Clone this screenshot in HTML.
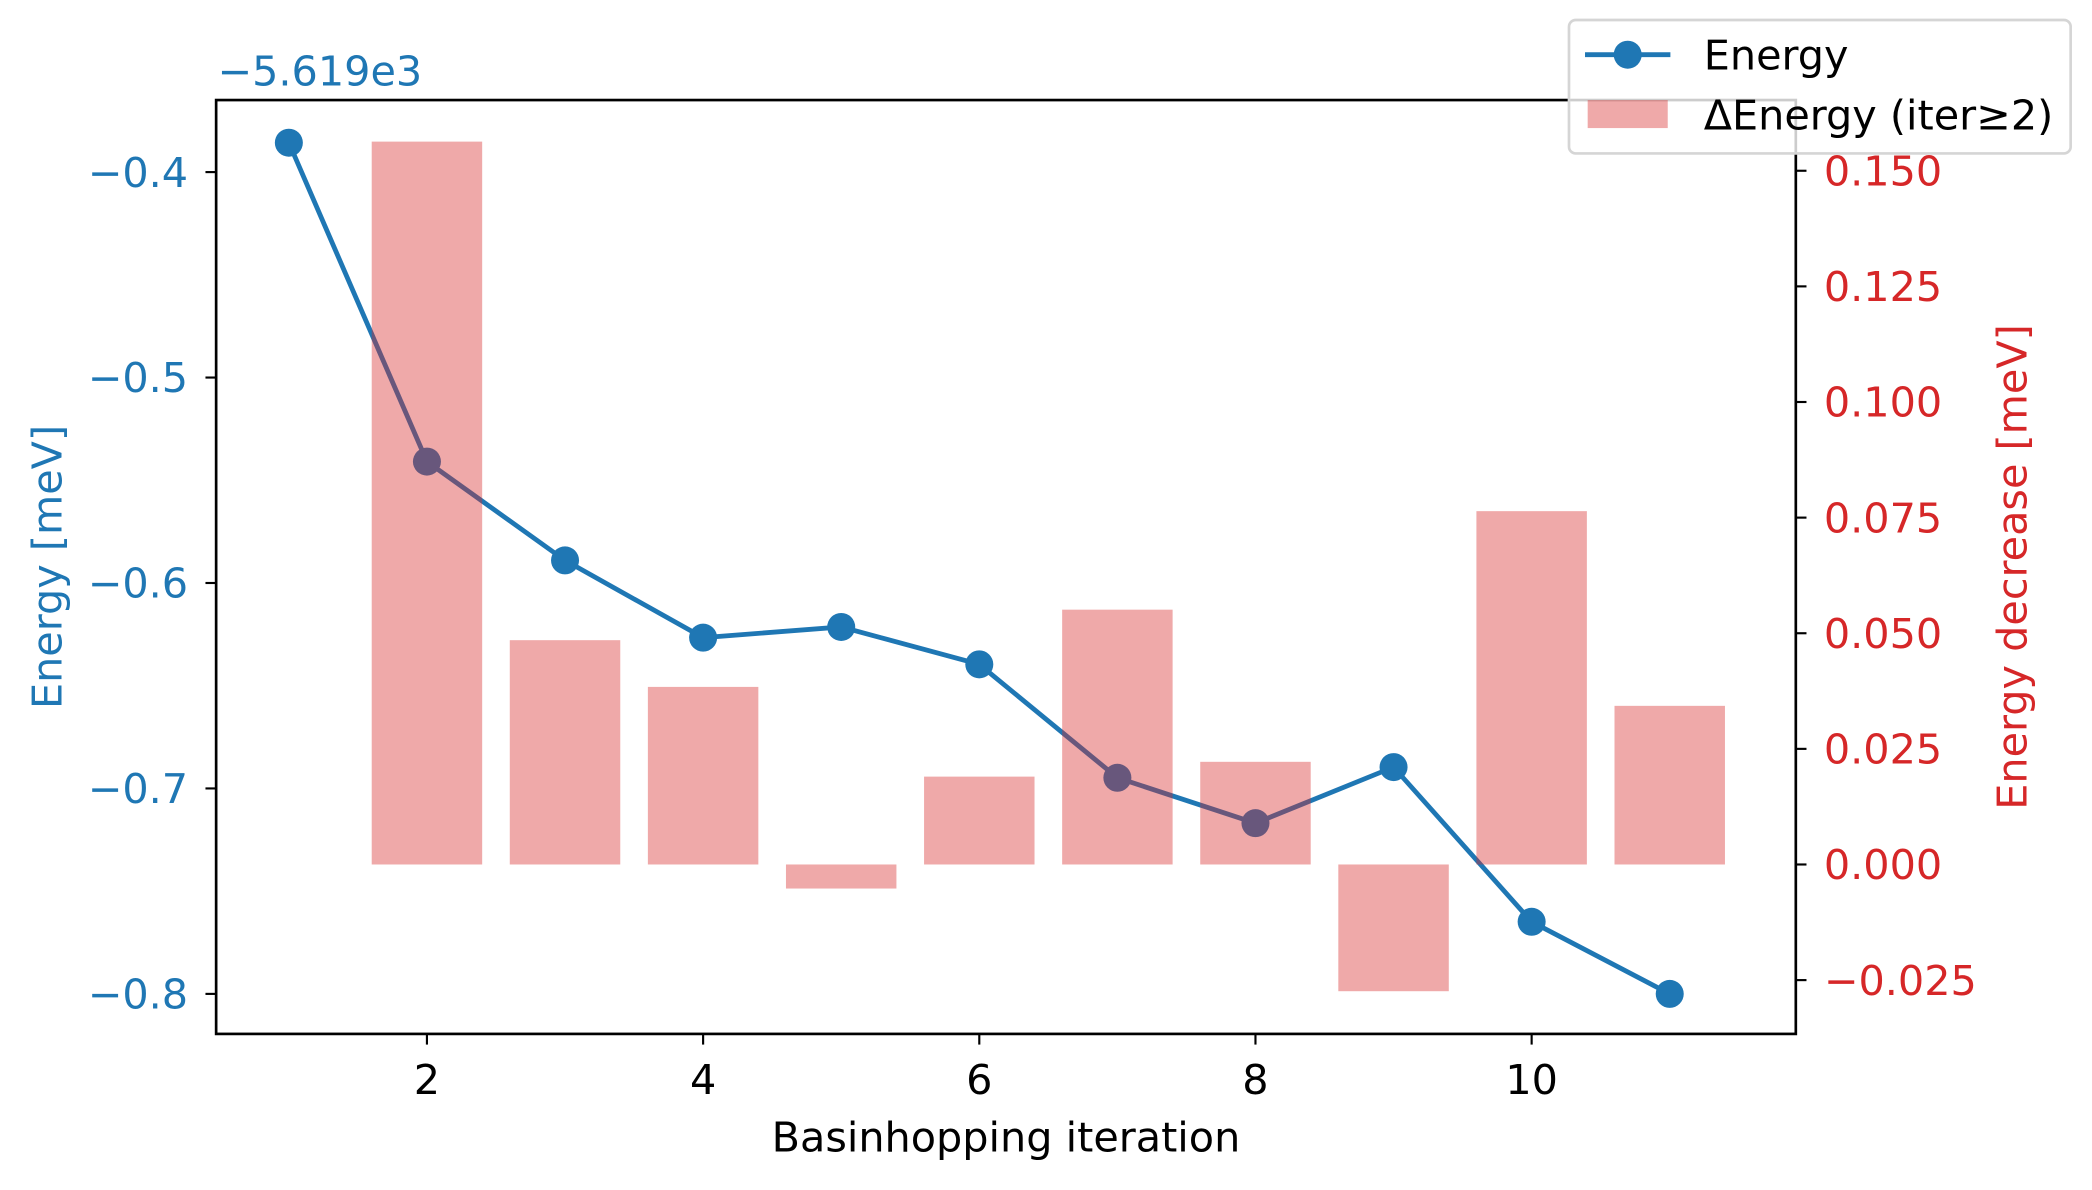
<!DOCTYPE html>
<html><head><meta charset="utf-8"><style>
html,body{margin:0;padding:0;background:#fff}
svg{display:block;font-family:"DejaVu Sans","Liberation Sans",sans-serif}
</style></head><body>
<svg id="chart" width="2092" height="1190" viewBox="0 0 1568 892" preserveAspectRatio="none" xmlns="http://www.w3.org/2000/svg">
<rect width="1568" height="892" fill="#fff"/>
<g id="lineLayer"></g>
<g id="barLayer"></g>
<g id="axes"></g>
</svg>
<script>
const iterations=[1,2,3,4,5,6,7,8,9,10,11];
const energy=[-0.3857,-0.5409,-0.589,-0.6266,-0.6214,-0.6396,-0.6948,-0.7169,-0.6896,-0.7649,-0.8];
const barIters=[2,3,4,5,6,7,8,9,10,11];
const deltas=[0.1563,0.0485,0.0384,-0.0052,0.019,0.0551,0.0222,-0.0274,0.0764,0.0343];
const xTicks=[2,4,6,8,10];
const yLeftTicks=[-0.4,-0.5,-0.6,-0.7,-0.8];
const yLeftLabels=["\u22120.4","\u22120.5","\u22120.6","\u22120.7","\u22120.8"];
const yRightTicks=[0.15,0.125,0.1,0.075,0.05,0.025,0,-0.025];
const yRightLabels=["0.150","0.125","0.100","0.075","0.050","0.025","0.000","\u22120.025"];

const L=162,R=1346,T=75,B=775,FS=31;
const NS="http://www.w3.org/2000/svg";
const xs=v=>216.5+(v-1)*103.5;
const yl=v=>129+(-0.4-v)*1540;
const yr=v=>648-v*3466.7;
function mk(tag,attrs,parent){const e=document.createElementNS(NS,tag);for(const k in attrs)e.setAttribute(k,attrs[k]);parent.appendChild(e);return e;}
const lineLayer=document.getElementById('lineLayer'),barLayer=document.getElementById('barLayer'),axes=document.getElementById('axes');

const pl=mk('polyline',{points:iterations.map((x,i)=>xs(x)+','+yl(energy[i])).join(' '),fill:'none',stroke:'#1f77b4','stroke-width':3.6},lineLayer);


iterations.forEach((x,i)=>{
  const c=mk('circle',{cx:xs(x),cy:yl(energy[i]),r:10.5,fill:'#1f77b4'},lineLayer);
  
  
});
barIters.forEach((x,i)=>{
  const v=deltas[i];const y0=yr(0),y1=yr(v);
  const r=mk('rect',{x:xs(x-0.4),y:Math.min(y0,y1),width:xs(x+0.4)-xs(x-0.4),height:Math.abs(y1-y0),fill:'#d62728','fill-opacity':0.4},barLayer);
  
  
});

const fr=mk('rect',{x:L,y:T,width:R-L,height:B-T,fill:'none',stroke:'#000','stroke-width':2},axes);



xTicks.forEach(v=>{
  mk('line',{x1:xs(v),x2:xs(v),y1:B,y2:B+8,stroke:'#000','stroke-width':1.6},axes);
  const t=mk('text',{x:xs(v),y:820,'font-size':FS,'text-anchor':'middle',fill:'#000'},axes);t.textContent=v;
  
  
});
yLeftTicks.forEach((v,i)=>{
  mk('line',{x1:L-8,x2:L,y1:yl(v),y2:yl(v),stroke:'#000','stroke-width':1.6},axes);
  const t=mk('text',{x:141,y:yl(v)+11,'font-size':FS,'text-anchor':'end',fill:'#1f77b4'},axes);t.textContent=yLeftLabels[i];
  
  
});
yRightTicks.forEach((v,i)=>{
  mk('line',{x1:R,x2:R+8,y1:yr(v),y2:yr(v),stroke:'#000','stroke-width':1.6},axes);
  const t=mk('text',{x:1367,y:yr(v)+11,'font-size':FS,'text-anchor':'start',fill:'#d62728'},axes);t.textContent=yRightLabels[i];
  
  
});
</script>
<script>
(function(){
const axes=document.getElementById('axes');const NS="http://www.w3.org/2000/svg";const FS=31;
function mk(tag,attrs,txt){const e=document.createElementNS(NS,tag);for(const k in attrs)e.setAttribute(k,attrs[k]);if(txt!==undefined)e.textContent=txt;axes.appendChild(e);return e;}
let e;
e=mk('text',{x:163,y:64,'font-size':FS,fill:'#1f77b4'},'\u22125.619e3');


e=mk('text',{x:754,y:863,'font-size':FS,'text-anchor':'middle',fill:'#000'},'Basinhopping iteration');


e=mk('text',{x:0,y:0,'font-size':FS,'text-anchor':'middle',fill:'#1f77b4',transform:'translate(46,425) rotate(-90)'},'Energy [meV]');


e=mk('text',{x:0,y:0,'font-size':FS,'text-anchor':'middle',fill:'#d62728',transform:'translate(1519,425) rotate(-90)'},'Energy decrease [meV]');


e=mk('rect',{x:1176,y:15,width:376,height:100,rx:5,fill:'#fff','fill-opacity':0.8,stroke:'#d5d5d5','stroke-width':2});


mk('line',{x1:1188,x2:1252,y1:41,y2:41,stroke:'#1f77b4','stroke-width':3.6});
mk('circle',{cx:1220,cy:41,r:10.5,fill:'#1f77b4'});
e=mk('text',{x:1277,y:52,'font-size':FS,fill:'#000'},'Energy');


mk('rect',{x:1190,y:75,width:60,height:21,fill:'#d62728','fill-opacity':0.4});
e=mk('text',{x:1277,y:97,'font-size':FS,fill:'#000'},'\u0394Energy (iter\u22652)');


})();
</script>
</body></html>
